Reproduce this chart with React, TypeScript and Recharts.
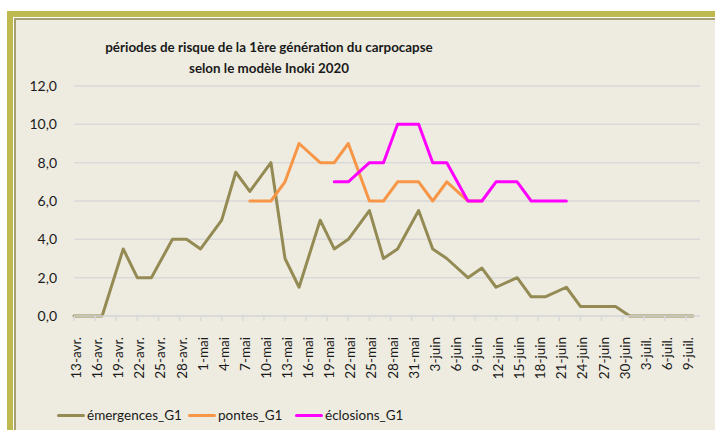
import React from "react";
import { CartesianGrid, Line, LineChart, XAxis, YAxis } from "recharts";

const FONT = "Lato, 'Open Sans', sans-serif";

const startDate = "2020-04-13";

const sampleDates = [
  "2020-04-13", "2020-04-15", "2020-04-17", "2020-04-20", "2020-04-22", "2020-04-24", "2020-04-27", "2020-04-29",
  "2020-05-01", "2020-05-04", "2020-05-06", "2020-05-08", "2020-05-11", "2020-05-13", "2020-05-15", "2020-05-18",
  "2020-05-20", "2020-05-22", "2020-05-25", "2020-05-27", "2020-05-29",
  "2020-06-01", "2020-06-03", "2020-06-05", "2020-06-08", "2020-06-10", "2020-06-12", "2020-06-15", "2020-06-17",
  "2020-06-19", "2020-06-22", "2020-06-24", "2020-06-26", "2020-06-29",
  "2020-07-01", "2020-07-03", "2020-07-06", "2020-07-08", "2020-07-10"
];

const emergences = [
  0, 0, 0, 3.5, 2, 2, 4, 4,
  3.5, 5, 7.5, 6.5, 8, 3, 1.5, 5, 3.5, 4, 5.5, 3, 3.5,
  5.5, 3.5, 3, 2, 2.5, 1.5, 2, 1, 1, 1.5, 0.5, 0.5, 0.5,
  0, 0, 0, 0, 0
];

const pontes = [
  null, null, null, null, null, null, null, null,
  null, null, null, 6, 6, 7, 9, 8, 8, 9, 6, 6, 7,
  7, 6, 7, 6, 6, null, null, null, null, null, null, null, null,
  null, null, null, null, null
];

const eclosions = [
  null, null, null, null, null, null, null, null,
  null, null, null, null, null, null, null, null, 7, 7, 8, 8, 10,
  10, 8, 8, 6, 6, 7, 7, 6, 6, 6, null, null, null,
  null, null, null, null, null
];

const tickLabels = [
  "13-avr.", "16-avr.", "19-avr.", "22-avr.", "25-avr.", "28-avr.", "1-mai", "4-mai", "7-mai", "10-mai",
  "13-mai", "16-mai", "19-mai", "22-mai", "25-mai", "28-mai", "31-mai", "3-juin", "6-juin", "9-juin",
  "12-juin", "15-juin", "18-juin", "21-juin", "24-juin", "27-juin", "30-juin", "3-juil.", "6-juil.", "9-juil."
];

const yTicks = [0, 2, 4, 6, 8, 10, 12];

const series = [
  { key: "emergences", name: "émergences_G1", color: "#948A54" },
  { key: "pontes", name: "pontes_G1", color: "#F79646" },
  { key: "eclosions", name: "éclosions_G1", color: "#FF00FF" }
];

// legend item left edges, as in the original layout
const legendLeft = [57, 188, 295];

const DAY = 86400000;
const dayOf = (d: string) => Math.round((Date.parse(d) - Date.parse(startDate)) / DAY);

const data = sampleDates.map((d, i) => ({
  day: dayOf(d),
  emergences: emergences[i],
  pontes: pontes[i],
  eclosions: eclosions[i]
}));

const xTicks = tickLabels.map((_, i) => i * 3);

const XTick = (props: any) => {
  const { x, y, payload } = props;
  return (
    <g transform={`translate(${x},${y})`}>
      <text transform="rotate(-90)" x={0} y={0} dy={7} textAnchor="end" fill="#1a1a1a" fontSize={13.5} fontFamily={FONT}>
        {tickLabels[Math.round(payload.value / 3)]}
      </text>
    </g>
  );
};

export default function App() {
  return (
    <div style={{ position: "absolute", left: 0, top: 0, width: 715, height: 430, background: "#fff", overflow: "hidden" }}>
      {/* frame */}
      <div style={{ position: "absolute", left: 7, top: 11, width: 740, height: 460, border: "6px solid #BFBA4F", boxSizing: "border-box" }} />
      <div style={{ position: "absolute", left: 14, top: 18, width: 720, height: 440, borderLeft: "2px solid #A89F73", borderTop: "2px solid #A89F73", background: "#EEECE1" }} />

      <div
        style={{
          position: "absolute",
          left: 69,
          top: 37,
          width: 400,
          textAlign: "center",
          whiteSpace: "nowrap",
          fontFamily: FONT,
          fontWeight: 700,
          fontSize: 13.4,
          lineHeight: "21px",
          color: "#1a1a1a"
        }}
      >
        périodes de risque de la 1ère génération du carpocapse
        <br />
        selon le modèle Inoki 2020
      </div>

      <div style={{ position: "absolute", left: 0, top: 0 }}>
        <LineChart width={715} height={430} data={data} margin={{ top: 86, right: 15, bottom: 54, left: 24 }}>
          <CartesianGrid vertical={false} stroke="#D9D9D9" strokeWidth={1.5} />
          <XAxis
            dataKey="day"
            type="number"
            domain={[0, 89]}
            ticks={xTicks}
            interval={0}
            height={60}
            stroke="#D9D9D9"
            strokeWidth={1.5}
            tickSize={5}
            tickMargin={16}
            tick={<XTick />}
          />
          <YAxis
            domain={[0, 12]}
            ticks={yTicks}
            width={50}
            axisLine={false}
            tickLine={false}
            tickSize={0}
            tickMargin={17}
            tick={{ fill: "#1a1a1a", fontSize: 14, fontFamily: FONT }}
            tickFormatter={(v: number) => v.toFixed(1).replace(".", ",")}
          />
          {series.map((s) => (
            <Line
              key={s.key}
              type="linear"
              dataKey={s.key}
              name={s.name}
              stroke={s.color}
              strokeWidth={3}
              strokeLinecap="round"
              strokeLinejoin="round"
              dot={false}
              activeDot={false}
              isAnimationActive={false}
            />
          ))}
        </LineChart>
      </div>

      {series.map((s, i) => (
        <div
          key={s.key}
          style={{
            position: "absolute",
            left: legendLeft[i],
            top: 407,
            display: "flex",
            alignItems: "center",
            whiteSpace: "nowrap",
            fontFamily: FONT,
            fontSize: 13.5,
            color: "#1a1a1a"
          }}
        >
          <span style={{ display: "inline-block", width: 28, height: 3, borderRadius: 2, background: s.color, marginRight: 2 }} />
          <span>{s.name}</span>
        </div>
      ))}
    </div>
  );
}
